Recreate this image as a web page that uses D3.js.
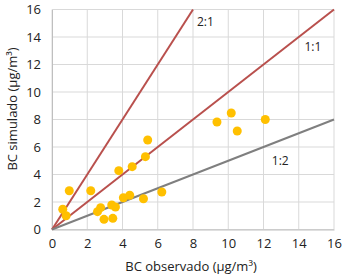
<!DOCTYPE html>
<html>
<head>
<meta charset="utf-8">
<script src="https://cdn.jsdelivr.net/npm/d3@7"></script>
<style>
  body { margin: 0; background: #fff; }
  text { font-family: "Open Sans", "Noto Sans", sans-serif; fill: #222; }
</style>
</head>
<body>
<div id="chart"></div>
<script>
/** Data */
const observed = [0.61, 0.8, 0.98, 2.2, 2.58, 2.76, 2.95, 3.39, 3.45, 3.6, 3.79, 4.05, 4.41, 4.55, 5.19, 5.3, 5.43, 6.23, 9.36, 10.17, 10.51, 12.1];
const simulated = [1.47, 1.0, 2.82, 2.82, 1.3, 1.59, 0.74, 1.78, 0.81, 1.64, 4.28, 2.31, 2.49, 4.57, 2.24, 5.3, 6.51, 2.73, 7.82, 8.47, 7.16, 8.0];
const ratioNames = ["2:1", "1:1", "1:2"];
const ratioSlopes = [2, 1, 0.5];
const ratioLabelX = [8.7, 14.8, 12.95];
const ratioLabelY = [15.0, 13.2, 4.9];
const tickValues = [0, 2, 4, 6, 8, 10, 12, 14, 16];

/** Graph configs */
const W = 348, H = 277;
const margin = { top: 9.5, right: 14, bottom: 47.5, left: 52 };
const width = W - margin.left - margin.right;
const height = H - margin.top - margin.bottom;

const svg = d3
  .select("#chart")
  .append("svg")
  .attr("width", W)
  .attr("height", H);

const g = svg
  .append("g")
  .attr("transform", `translate(${margin.left},${margin.top})`);

const x = d3.scaleLinear().domain([0, 16]).range([0, width]);
const y = d3.scaleLinear().domain([0, 16]).range([height, 0]);

/** Gridlines */
g.append("g")
  .selectAll("line")
  .data(tickValues)
  .enter()
  .append("line")
  .attr("x1", (d) => x(d))
  .attr("x2", (d) => x(d))
  .attr("y1", 0)
  .attr("y2", height)
  .attr("stroke", "#d9d9d9")
  .attr("stroke-width", 1);

g.append("g")
  .selectAll("line")
  .data(tickValues)
  .enter()
  .append("line")
  .attr("x1", 0)
  .attr("x2", width)
  .attr("y1", (d) => y(d))
  .attr("y2", (d) => y(d))
  .attr("stroke", "#d9d9d9")
  .attr("stroke-width", 1);

/** Axes */
const xAxis = d3.axisBottom(x).tickValues(tickValues).tickSize(0).tickPadding(9);
const yAxis = d3.axisLeft(y).tickValues(tickValues).tickSize(0).tickPadding(11);

const gx = g.append("g").attr("transform", `translate(0,${height})`).call(xAxis);
const gy = g.append("g").call(yAxis);
[gx, gy].forEach((a) => {
  a.select(".domain").attr("stroke", "#bfbfbf");
  a.selectAll("text").style("font-size", "13px").attr("fill", "#222");
});

/** Ratio lines */
g.append("g")
  .selectAll("line")
  .data(ratioSlopes)
  .enter()
  .append("line")
  .attr("x1", x(0))
  .attr("y1", y(0))
  .attr("x2", (s) => x(Math.min(16, 16 / s)))
  .attr("y2", (s) => y(Math.min(16, 16 * s)))
  .attr("stroke", (s) => (s < 1 ? "#7f7f7f" : "#b9504d"))
  .attr("stroke-width", 2);

g.append("g")
  .selectAll("text")
  .data(ratioNames)
  .enter()
  .append("text")
  .attr("x", (d, i) => x(ratioLabelX[i]))
  .attr("y", (d, i) => y(ratioLabelY[i]))
  .attr("text-anchor", "middle")
  .attr("dominant-baseline", "middle")
  .style("font-size", "12px")
  .text((d) => d);

/** Points */
g.append("g")
  .selectAll("circle")
  .data(observed)
  .enter()
  .append("circle")
  .attr("cx", (d) => x(d))
  .attr("cy", (d, i) => y(simulated[i]))
  .attr("r", 4.5)
  .attr("fill", "#ffc000");

/** Axis titles */
svg
  .append("text")
  .attr("x", 191)
  .attr("y", 271)
  .attr("text-anchor", "middle")
  .style("font-size", "13px")
  .text("BC observado (μg/m³)");

svg
  .append("text")
  .attr("transform", `translate(17,109) rotate(-90)`)
  .attr("text-anchor", "middle")
  .style("font-size", "13px")
  .text("BC simulado (μg/m³)");
</script>
</body>
</html>
